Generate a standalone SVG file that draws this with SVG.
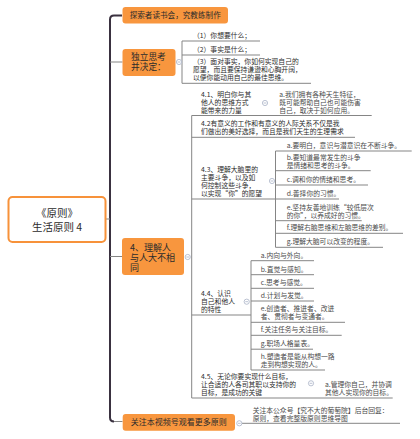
<svg xmlns="http://www.w3.org/2000/svg" width="420" height="439" viewBox="0 0 420 439">
<defs>
<style>
.bg{fill:#ffffff}
.n{fill:#f8963e}
.t{font-family:"Noto Sans CJK SC","Noto Sans",sans-serif;fill:#2b2b2b}
.s{font-size:6.8px}
.l3{fill:#4a4a4a}
.ln{stroke:#858585;stroke-width:1;fill:none}
.sp{stroke:#3a3140;stroke-width:2;fill:none}
.c{fill:#ffffff;stroke:#a9b3c6;stroke-width:0.8}
.cm{stroke:#a9b3c6;stroke-width:0.8}
</style>
<g id="collapse">
<circle class="c" cx="0" cy="0" r="2.6"/>
<line class="cm" x1="-1.4" y1="0" x2="1.4" y2="0"/>
</g>
</defs>
<rect class="bg" x="0" y="0" width="420" height="439"/>

<g id="connectors">
<path class="sp" d="M122 15.5 H114 Q110 15.5 110 19.5 V417.5 Q110 421.5 114 421.5"/>
<line class="ln" x1="114" y1="421.5" x2="122.5" y2="421.5"/>
<line class="ln" x1="106" y1="219" x2="110" y2="219"/>
<line class="ln" x1="110" y1="62" x2="122.5" y2="62"/>
<line class="ln" x1="110" y1="256.5" x2="122.5" y2="256.5"/>
<path class="ln" d="M182 41 V83.3"/>
<path class="ln" d="M182 41 H260 M182 55 H260 M182 83.3 H311"/>
<path class="ln" d="M191.7 115.5 V398"/>
<path class="ln" d="M191.7 115.5 H371.7 M191.7 137.3 H355 M191.7 199 H339 M191.7 315 H251 M191.7 398 H392.7"/>
<path class="ln" d="M275.5 151 V247.3"/>
<path class="ln" d="M275.5 151 H411.7 M275.5 170.7 H370.7 M275.5 185 H368 M275.5 220.7 H361.7 M275.5 233.3 H403 M275.5 247.3 H383"/>
<path class="ln" d="M251 260.7 V370"/>
<path class="ln" d="M251 260.7 H314 M251 274.7 H314 M251 288.3 H314 M251 301 H314 M251 322.3 H345 M251 335.3 H341.7 M251 349.2 H313 M251 370 H325"/>
<path class="ln" d="M242 423.3 H400"/>
</g>

<g id="root">
<rect x="8.5" y="197" width="97" height="45" rx="4" fill="#ffffff" stroke="#f7923a" stroke-width="2"/>
<text class="t" x="57" y="216.5" font-size="10.5" text-anchor="middle">《原则》</text>
<text class="t" x="57" y="230.8" font-size="10.5" text-anchor="middle">生活原则 4</text>
</g>

<g id="n-explorer">
<rect class="n" x="122.5" y="7" width="105.5" height="16.5" rx="3"/>
<text class="t" x="175.2" y="18" font-size="7.6" text-anchor="middle">探索者读书会，究教练制作</text>
</g>

<g id="n-think">
<rect class="n" x="122.5" y="49" width="53" height="27" rx="3"/>
<text class="t" x="131" y="59.8" font-size="8.7">独立思考</text>
<text class="t" x="131" y="69.8" font-size="8.7">并决定：</text>
<use href="#collapse" x="179" y="62"/>
</g>
<g id="n-q1"><text class="t s" x="193" y="38">（1）你想要什么；</text></g>
<g id="n-q2"><text class="t s" x="193" y="52">（2）事实是什么；</text></g>
<g id="n-q3">
<text class="t s" x="193" y="64.3">（3）面对事实，你如何实现自己的</text>
<text class="t s" x="193" y="72.3">愿望，而且要保持谦逊和心胸开阔，</text>
<text class="t s" x="193" y="80.3">以便你能动用自己的最佳思维。</text>
</g>

<g id="n-4">
<rect class="n" x="122" y="238" width="62" height="37" rx="3"/>
<text class="t" x="130" y="251" font-size="9">4、理解人</text>
<text class="t" x="130" y="260.8" font-size="9">与人大不相</text>
<text class="t" x="130" y="270.6" font-size="9">同</text>
<use href="#collapse" x="187.7" y="257"/>
</g>

<g id="n-4-1">
<text class="t s" x="201" y="96.5">4.1、明白你与其</text>
<text class="t s" x="201" y="104.5">他人的思维方式</text>
<text class="t s" x="201" y="112.5">能带来的力量</text>
<use href="#collapse" x="265" y="103"/>
</g>
<g id="n-4-1-a">
<text class="t s l3" x="279.3" y="96.5">a.我们拥有各种天生特征，</text>
<text class="t s l3" x="279.3" y="104.5">既可能帮助自己也可能伤害</text>
<text class="t s l3" x="279.3" y="112.5">自己，取决于如何应用。</text>
</g>

<g id="n-4-2">
<text class="t s" x="201" y="126.3">4.2有意义的工作和有意义的人际关系不仅是我</text>
<text class="t s" x="201" y="134.3">们做出的美好选择，而且是我们天生的生理需求</text>
</g>

<g id="n-4-3">
<text class="t s" x="201" y="172">4.3、理解大脑里的</text>
<text class="t s" x="201" y="180">主要斗争，以及如</text>
<text class="t s" x="201" y="188">何控制这些斗争，</text>
<text class="t s" x="201" y="196">以实现“你”的愿望</text>
<use href="#collapse" x="272" y="181"/>
</g>
<g id="n-4-3-a"><text class="t s l3" x="286.7" y="148.2">a.要明白，意识与潜意识在不断斗争。</text></g>
<g id="n-4-3-b">
<text class="t s l3" x="286.7" y="159.7">b.要知道最常发生的斗争</text>
<text class="t s l3" x="286.7" y="167.7">是情绪和思考的斗争。</text>
</g>
<g id="n-4-3-c"><text class="t s l3" x="286.7" y="182">c.调和你的情绪和思考。</text></g>
<g id="n-4-3-d"><text class="t s l3" x="286.7" y="196">d.善择你的习惯。</text></g>
<g id="n-4-3-e">
<text class="t s l3" x="286.7" y="209.7">e.坚持友善地训练“较低层次</text>
<text class="t s l3" x="286.7" y="217.7">的你”，以养成好的习惯。</text>
</g>
<g id="n-4-3-f"><text class="t s l3" x="286.7" y="230.3">f.理解右脑思维和左脑思维的差别。</text></g>
<g id="n-4-3-g"><text class="t s l3" x="286.7" y="244.3">g.理解大脑可以改变的程度。</text></g>

<g id="n-4-4">
<text class="t s" x="201" y="296">4.4、认识</text>
<text class="t s" x="201" y="304">自己和他人</text>
<text class="t s" x="201" y="312">的特性</text>
<use href="#collapse" x="246.7" y="301.7"/>
</g>
<g id="n-4-4-a"><text class="t s l3" x="260.7" y="257.7">a.内向与外向。</text></g>
<g id="n-4-4-b"><text class="t s l3" x="260.7" y="271.7">b.直觉与感知。</text></g>
<g id="n-4-4-c"><text class="t s l3" x="260.7" y="285.3">c.思考与感觉。</text></g>
<g id="n-4-4-d"><text class="t s l3" x="260.7" y="298">d.计划与发觉。</text></g>
<g id="n-4-4-e">
<text class="t s l3" x="260.7" y="311.3">e.创造者、推进者、改进</text>
<text class="t s l3" x="260.7" y="319.3">者、贯彻者与变通者。</text>
</g>
<g id="n-4-4-f"><text class="t s l3" x="260.7" y="332.3">f.关注任务与关注目标。</text></g>
<g id="n-4-4-g"><text class="t s l3" x="260.7" y="346.2">g.职场人格量表。</text></g>
<g id="n-4-4-h">
<text class="t s l3" x="260.7" y="359">h.塑造者是能从构想一路</text>
<text class="t s l3" x="260.7" y="367">走到构想实现的人。</text>
</g>

<g id="n-4-5">
<text class="t s" x="201" y="379">4.5、无论你要实现什么目标，</text>
<text class="t s" x="201" y="387">让合适的人各司其职以支持你的</text>
<text class="t s" x="201" y="395">目标，是成功的关键</text>
<use href="#collapse" x="311" y="383.3"/>
</g>
<g id="n-4-5-a">
<text class="t s l3" x="325" y="387">a.管理你自己，并协调</text>
<text class="t s l3" x="325" y="395">其他人实现你的目标。</text>
</g>

<g id="n-follow">
<rect class="n" x="122.7" y="414" width="112.3" height="16.7" rx="3"/>
<text class="t" x="178.8" y="425.1" font-size="8" text-anchor="middle">关注本视频号观看更多原则</text>
<use href="#collapse" x="239.3" y="423.3"/>
</g>
<g id="n-follow-a">
<text class="t s l3" x="252.7" y="413.3">关注本公众号【究不大的葡萄院】后台回复：</text>
<text class="t s l3" x="252.7" y="421">原则，查看完整版原则思维导图</text>
</g>
</svg>
